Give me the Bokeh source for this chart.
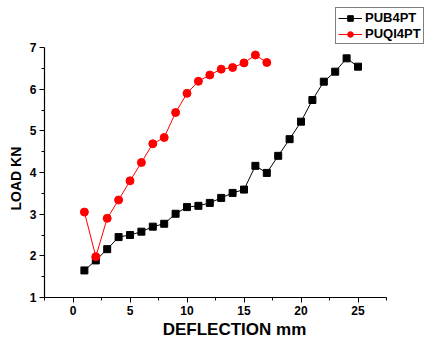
from bokeh.plotting import figure
from bokeh.models import FixedTicker, Range1d, Legend, LegendItem, Title
from bokeh.embed import file_html
from bokeh.resources import INLINE

# data
deflection_b = [1, 2, 3, 4, 5, 6, 7, 8, 9, 10, 11, 12, 13, 14, 15, 16, 17, 18, 19, 20, 21, 22, 23, 24, 25]
load_b = [1.65, 1.89, 2.16, 2.45, 2.50, 2.58, 2.70, 2.77, 3.01, 3.17, 3.20, 3.27, 3.39, 3.51, 3.59,
          4.16, 3.99, 4.40, 4.80, 5.22, 5.74, 6.18, 6.42, 6.74, 6.54]
deflection_r = [1, 2, 3, 4, 5, 6, 7, 8, 9, 10, 11, 12, 13, 14, 15, 16, 17]
load_r = [3.05, 1.98, 2.90, 3.34, 3.80, 4.24, 4.69, 4.84, 5.44, 5.90, 6.19, 6.34, 6.48, 6.52, 6.63, 6.82, 6.64]
x_ticks = [0, 5, 10, 15, 20, 25]
x_minor = [-2.5, 2.5, 7.5, 12.5, 17.5, 22.5, 27.5]
y_ticks = [1, 2, 3, 4, 5, 6, 7]
y_minor = [1.5, 2.5, 3.5, 4.5, 5.5, 6.5]
x_axis_span = (-2.5, 27.5)
y_axis_span = (1, 7)

FONT = "Liberation Sans"

# frame extends past the axis spans so the legend (top right) stays inside the drawable area
p = figure(frame_width=380, frame_height=297, output_backend="svg", toolbar_location=None,
           x_range=Range1d(-2.5, 30.8333), y_range=Range1d(1, 8.128),
           min_border_left=44, min_border_right=0, min_border_top=0, min_border_bottom=44)
p.grid.visible = False
p.outline_line_color = None
p.background_fill_color = "white"
p.border_fill_color = "white"

lb = p.line(deflection_b, load_b, line_color="black", line_width=1)
sb = p.scatter(deflection_b, load_b, marker="square", size=7, fill_color="black", line_color="black")
lr = p.line(deflection_r, load_r, line_color="red", line_width=1)
sr = p.scatter(deflection_r, load_r, marker="circle", size=8, fill_color="red", line_color="red")

for ax in (p.xaxis[0], p.yaxis[0]):
    ax.axis_line_color = "black"
    ax.axis_line_width = 1.2
    ax.major_tick_line_color = "black"
    ax.minor_tick_line_color = "black"
    ax.major_tick_in = 0
    ax.major_tick_out = 5
    ax.minor_tick_in = 0
    ax.minor_tick_out = 3
    ax.major_label_text_font = FONT
    ax.major_label_text_font_style = "bold"
    ax.major_label_text_font_size = "12px"
    ax.major_label_text_color = "black"
    ax.axis_label_text_font = FONT
    ax.axis_label_text_font_style = "bold"
    ax.axis_label_text_color = "black"

p.xaxis.bounds = x_axis_span
p.yaxis.bounds = y_axis_span
p.xaxis.ticker = FixedTicker(ticks=x_ticks, minor_ticks=x_minor)
p.yaxis.ticker = FixedTicker(ticks=y_ticks, minor_ticks=y_minor)
p.xaxis.axis_label = "DEFLECTION mm"
p.xaxis.axis_label_text_font_size = "17px"
p.xaxis.axis_label_standoff = 2
p.xaxis.major_label_standoff = 3
p.yaxis.major_label_standoff = 3

ytitle = Title(text="LOAD KN", align="left", offset=87, text_font=FONT, text_font_style="bold",
               text_font_size="14px", text_color="black", standoff=5)
p.add_layout(ytitle, "left")

legend = Legend(items=[LegendItem(label="PUB4PT", renderers=[lb, sb]),
                       LegendItem(label="PUQI4PT", renderers=[lr, sr])],
                location=(291, 253))
legend.label_text_font = FONT
legend.label_text_font_style = "bold"
legend.label_text_font_size = "13px"
legend.label_text_color = "black"
legend.glyph_width = 24
legend.glyph_height = 14
legend.label_height = 14
legend.spacing = 1
legend.padding = 2
legend.margin = 0
legend.label_standoff = 3
legend.border_line_color = "black"
legend.border_line_width = 1
legend.background_fill_alpha = 1
p.add_layout(legend, "center")

open("out.html", "w").write(file_html(p, INLINE))
